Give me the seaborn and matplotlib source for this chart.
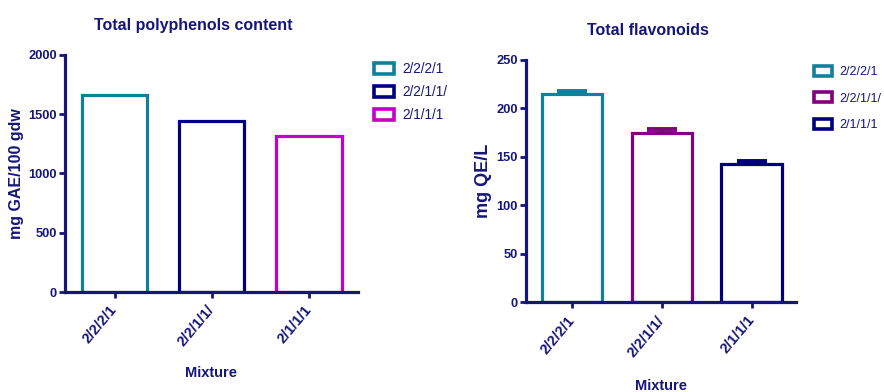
import pandas as pd
import matplotlib.pyplot as plt
import seaborn as sns

# data
mixtures_left = ['2/2/2/1', '2/2/1/1/', '2/1/1/1']
polyphenols = [1665, 1440, 1320]
colors_left = ['#11809A', '#00007F', '#C400C4']

mixtures_right = ['2/2/2/1', '2/2/1/1/', '2/1/1/1']
flavonoids = [215, 175, 143]
flavonoids_err = [3.5, 3.5, 2.5]
colors_right = ['#11809A', '#800080', '#00007F']

ink = '#16167A'

sns.set_theme(style="white")
plt.rcParams['font.family'] = ['Liberation Sans', 'DejaVu Sans']
plt.rcParams['text.color'] = ink
plt.rcParams['axes.labelcolor'] = ink
plt.rcParams['xtick.color'] = ink
plt.rcParams['ytick.color'] = ink

fig = plt.figure(figsize=(8.84, 3.92), dpi=100)
ax1 = fig.add_axes([0.0735, 0.255, 0.331, 0.605])
ax2 = fig.add_axes([0.595, 0.229, 0.306, 0.618])

df1 = pd.DataFrame({'Mixture': mixtures_left, 'value': polyphenols})
df2 = pd.DataFrame({'Mixture': mixtures_right, 'value': flavonoids, 'err': flavonoids_err})


def draw_panel(ax, df, colors, ylim, yticks, title, ylabel, ylabel_size, ylabel_pad,
               title_x, leg_anchor, leg_spacing, leg_size, xlabel_pad):
    sns.barplot(ax=ax, data=df, x='Mixture', y='value', hue='Mixture',
                palette=colors, fill=False, width=0.67, linewidth=2.3,
                legend=True, errorbar=None)
    ax.set_xlim(-0.51, 2.5)
    ax.set_ylim(*ylim)
    ax.set_yticks(yticks)
    for side in ['top', 'right']:
        ax.spines[side].set_visible(False)
    for side in ['left', 'bottom']:
        ax.spines[side].set_color(ink)
        ax.spines[side].set_linewidth(2.3)
    ax.tick_params(axis='both', direction='out', length=4, width=2, colors=ink,
                   left=True, bottom=True, pad=2)
    for lbl in ax.get_yticklabels():
        lbl.set_fontweight('bold')
        lbl.set_fontsize(9.3)
    ax.set_xticks(range(len(df)))
    ax.set_xticklabels(df['Mixture'], rotation=50, ha='right', va='center',
                       rotation_mode='anchor', fontweight='bold', fontsize=10.5)
    for lbl in ax.get_xticklabels():
        lbl.set_y(-0.03)
    ax.set_xlabel('Mixture', fontweight='bold', fontsize=10.5, labelpad=xlabel_pad)
    ax.set_ylabel(ylabel, fontweight='bold', fontsize=ylabel_size, labelpad=ylabel_pad)
    ax.set_title(title, fontweight='bold', fontsize=11.5, pad=18, x=title_x)
    sns.move_legend(ax, 'upper left', bbox_to_anchor=leg_anchor, frameon=False,
                    title=None, fontsize=leg_size, handlelength=1.5, handleheight=0.85,
                    labelspacing=leg_spacing, handletextpad=0.6, borderaxespad=0,
                    borderpad=0)
    for h in ax.get_legend().get_patches():
        h.set_linewidth(2.6)
        h.set_facecolor('white')


draw_panel(ax1, df1, colors_left, (0, 2000), [0, 500, 1000, 1500, 2000],
           'Total polyphenols content', 'mg GAE/100 gdw', 11.5, 3, 0.44,
           (1.055, 0.97), 0.66, 9.8, 12)
draw_panel(ax2, df2, colors_right, (0, 250), [0, 50, 100, 150, 200, 250],
           'Total flavonoids', 'mg QE/L', 13, 3, 0.45,
           (1.063, 0.975), 1.12, 9.0, 14)

# upper-only error bars on the flavonoids panel
for i, (v, e, c) in enumerate(zip(flavonoids, flavonoids_err, colors_right)):
    ax2.errorbar(i, v, yerr=[[0], [e]], fmt='none', ecolor=c,
                 elinewidth=2.2, capsize=10.8, capthick=2.8)

plt.savefig('out.png', dpi=100)
